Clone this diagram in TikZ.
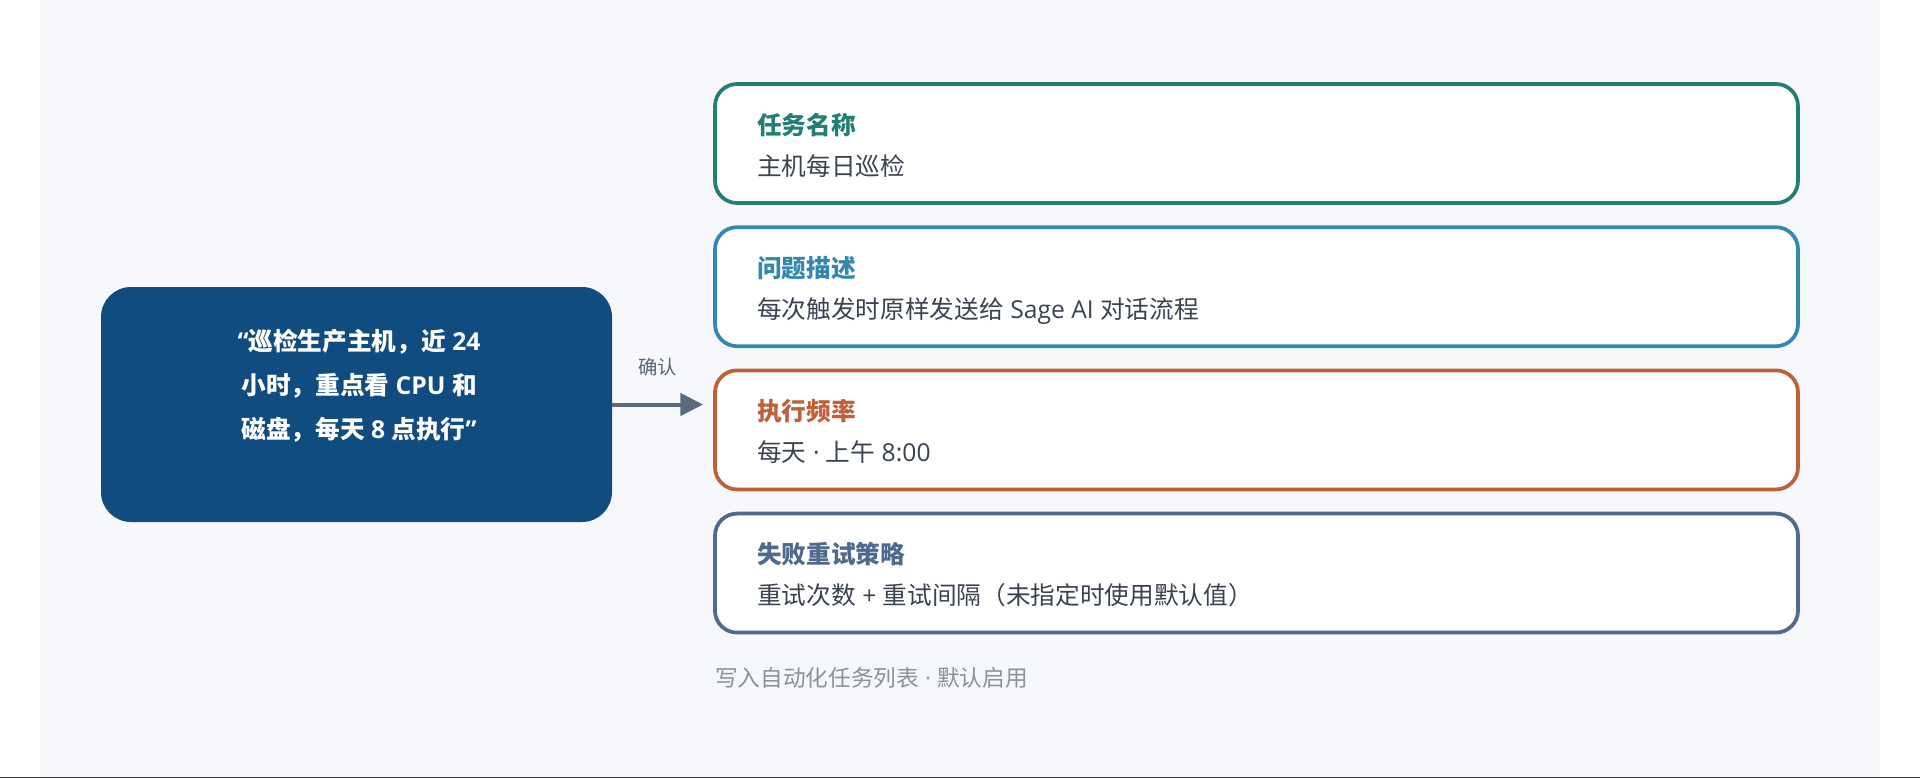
\documentclass[tikz,border=0pt]{standalone}
\usepackage{fontspec}
\setmainfont{Noto Sans CJK SC}
\newfontfamily\lt{Open Sans}
\usetikzlibrary{arrows.meta}
\definecolor{panelbg}{HTML}{F7F8FC}
\definecolor{navy}{HTML}{114C80}
\definecolor{cteal}{HTML}{237F74}
\definecolor{cblue}{HTML}{3488AF}
\definecolor{corange}{HTML}{C0603A}
\definecolor{cslate}{HTML}{4E6A8C}
\definecolor{arrowc}{HTML}{5B6B7F}
\definecolor{lblc}{HTML}{5A6472}
\definecolor{bodytxt}{HTML}{3B4350}
\definecolor{footc}{HTML}{8A919B}
\definecolor{rulec}{HTML}{3A3A3A}
\begin{document}
\begin{tikzpicture}[x=0.75pt,y=-0.75pt,
  card/.style={draw, line width=2.8pt, fill=white, rounded corners=16.5pt,
    minimum width=812.25pt, minimum height=89.25pt, inner sep=0pt},
  ttl/.style={anchor=base west, inner sep=0pt,
    font=\fontsize{18.5pt}{21pt}\selectfont\bfseries},
  bdy/.style={anchor=base west, inner sep=0pt, text=bodytxt,
    font=\fontsize{18.5pt}{21pt}\selectfont},
  quotebox/.style={fill=navy, rounded corners=22.5pt, minimum width=383.25pt,
    minimum height=176.25pt, inner sep=0pt},
  quotetext/.style={align=center, text=white, inner sep=0pt,
    font=\fontsize{18.5pt}{33pt}\selectfont\bfseries},
  flow/.style={draw=arrowc, line width=3pt, -{Triangle[length=17pt,width=16.5pt]}},
  lbl/.style={text=lblc, inner sep=0pt, font=\fontsize{14.5pt}{17pt}\selectfont},
  foot/.style={anchor=base west, inner sep=0pt, text=footc,
    font=\fontsize{17pt}{19pt}\selectfont}
]
\useasboundingbox (0,0) rectangle (1920,778);
\fill[white] (0,0) rectangle (1920,778);
\fill[panelbg] (40,0) rectangle (1880,776.5);
\fill[rulec] (0,776.5) rectangle (1920,778);

% cards
\node[card, draw=cteal] (c1) at (1256.5,143.5) {};
\node[card, draw=cblue] (c2) at (1256.5,286.7) {};
\node[card, draw=corange] (c3) at (1256.5,429.9) {};
\node[card, draw=cslate] (c4) at (1256.5,573.1) {};

\node[ttl, text=cteal] (t1) at (757,134) {任务名称};
\node[bdy] (b1) at (757,175) {主机每日巡检};
\node[ttl, text=cblue] (t2) at (757,277.2) {问题描述};
\node[bdy] (b2) at (757,318.2) {每次触发时原样发送给{\lt{} Sage AI }对话流程};
\node[ttl, text=corange] (t3) at (757,420.4) {执行频率};
\node[bdy] (b3) at (757,461.4) {每天{\lt{} · }上午{\lt{} 8:00}};
\node[ttl, text=cslate] (t4) at (757,563.6) {失败重试策略};
\node[bdy] (b4) at (757,604.6) {重试次数{\lt{} + }重试间隔（未指定时使用默认值）};

% quote box
\node[quotebox] (q) at (356.5,404.5) {};
\node[quotetext] (qt) at (359,385.7) {{\lt“}巡检生产主机，近{\lt{} 24}\\小时，重点看{\lt{} CPU }和\\磁盘，每天{\lt{} 8 }点执行{\lt”}};

% arrow
\draw[flow, shorten >=7.5pt] (q.east) -- (q.east -| c3.west)
  node[lbl, midway, yshift=27.75pt, xshift=-4pt] (ok) {确认};

% footer
\node[foot] (f) at (715,686) {写入自动化任务列表{\lt{} · }默认启用};
\end{tikzpicture}
\end{document}
